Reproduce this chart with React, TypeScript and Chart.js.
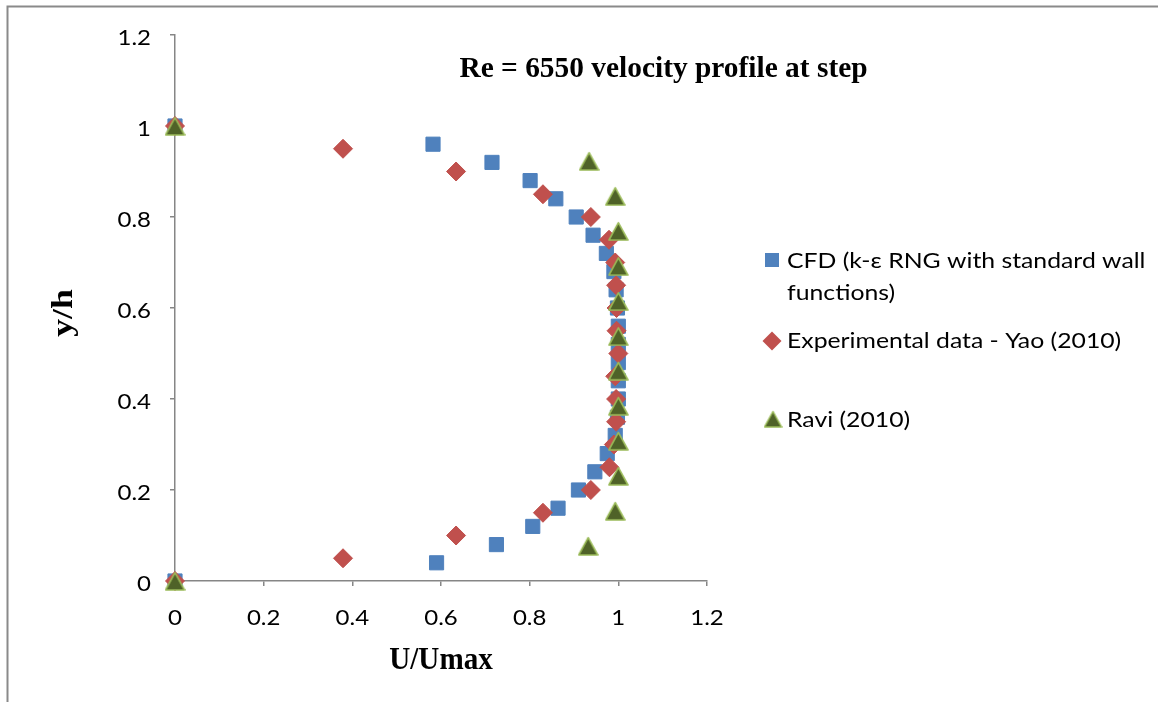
import React, { useEffect, useRef } from 'react';
import { Chart, registerables } from 'chart.js';

Chart.register(...registerables);

// Velocity profile samples: y/h positions and normalised velocity U/Umax
const cfdY = [0, 0.04, 0.08, 0.12, 0.16, 0.2, 0.24, 0.28, 0.32, 0.36, 0.4, 0.44, 0.48, 0.52, 0.56, 0.6, 0.64, 0.68, 0.72, 0.76, 0.8, 0.84, 0.88, 0.92, 0.96, 1];
const cfdU = [0, 0.59, 0.725, 0.807, 0.864, 0.91, 0.947, 0.975, 0.993, 0.998, 1, 1, 1, 1, 1, 0.998, 0.995, 0.99, 0.973, 0.943, 0.905, 0.859, 0.801, 0.715, 0.582, 0];

const expY = [0, 0.05, 0.1, 0.15, 0.2, 0.25, 0.3, 0.35, 0.4, 0.45, 0.5, 0.55, 0.6, 0.65, 0.7, 0.75, 0.8, 0.85, 0.9, 0.95, 1];
const expU = [0, 0.379, 0.634, 0.83, 0.938, 0.98, 0.99, 0.995, 0.995, 0.993, 1, 0.996, 0.996, 0.995, 0.993, 0.979, 0.938, 0.83, 0.634, 0.379, 0];

const raviY = [0, 0.077, 0.154, 0.231, 0.308, 0.385, 0.462, 0.538, 0.615, 0.692, 0.769, 0.846, 0.923, 1];
const raviU = [0, 0.932, 0.993, 1, 1, 1, 1, 1, 1, 1, 1, 0.993, 0.934, 0];

const axisTicks = [0, 0.2, 0.4, 0.6, 0.8, 1, 1.2];

const titleText = 'Re = 6550 velocity profile at step';
const xTitle = 'U/Umax';
const yTitle = 'y/h';
const legendLines = [
  ['CFD (k-ε RNG with standard wall', 'functions)'],
  ['Experimental data - Yao (2010)'],
  ['Ravi (2010)'],
];

const BLUE = '#4F81BD';
const RED = '#C0504D';
const GREEN_FILL = '#4F6228';
const GREEN_EDGE = '#9BBB59';
const AXIS = '#868686';
const SANS = 'Lato, "Open Sans", sans-serif';
const SERIF = '"Liberation Serif", "Times New Roman", serif';

function makeTriangle(w: number, h: number, lw: number): HTMLCanvasElement {
  const c = document.createElement('canvas');
  c.width = w;
  c.height = h;
  const g = c.getContext('2d')!;
  g.beginPath();
  g.moveTo(w / 2, lw);
  g.lineTo(w - lw / 2 - 0.2, h - lw / 2 - 0.2);
  g.lineTo(lw / 2 + 0.2, h - lw / 2 - 0.2);
  g.closePath();
  g.fillStyle = GREEN_FILL;
  g.fill();
  g.lineJoin = 'round';
  g.lineWidth = lw;
  g.strokeStyle = GREEN_EDGE;
  g.stroke();
  return c;
}

function inkWidth(ctx: CanvasRenderingContext2D, s: string) {
  const m = ctx.measureText(s);
  return m.actualBoundingBoxLeft + m.actualBoundingBoxRight;
}

function scaledText(
  ctx: CanvasRenderingContext2D,
  text: string,
  x: number,
  y: number,
  align: CanvasTextAlign,
  sx: number,
  rotate = 0
) {
  ctx.save();
  ctx.translate(x, y);
  if (rotate) ctx.rotate(rotate);
  ctx.scale(sx, 1);
  ctx.textAlign = align;
  ctx.textBaseline = 'alphabetic';
  ctx.fillText(text, 0, 0);
  ctx.restore();
}

export default function App() {
  const ref = useRef<HTMLCanvasElement | null>(null);

  useEffect(() => {
    const canvas = ref.current;
    if (!canvas) return;
    const tri = makeTriangle(21, 20, 1.6);
    const triSmall = makeTriangle(19, 18, 1.5);

    const decor = {
      id: 'decor',
      beforeDraw(chart: any) {
        const ctx: CanvasRenderingContext2D = chart.ctx;
        ctx.save();
        ctx.fillStyle = '#ffffff';
        ctx.fillRect(0, 0, chart.width, chart.height);
        ctx.strokeStyle = '#8a8a8a';
        ctx.lineWidth = 2;
        ctx.beginPath();
        ctx.moveTo(6.5, 6.5);
        ctx.lineTo(chart.width, 6.5);
        ctx.moveTo(7.5, 6.5);
        ctx.lineTo(7.5, chart.height);
        ctx.stroke();
        ctx.restore();
      },
      afterDraw(chart: any) {
        const ctx: CanvasRenderingContext2D = chart.ctx;
        const xs = chart.scales.x;
        const ys = chart.scales.y;
        ctx.save();
        ctx.fillStyle = '#000000';

        // tick labels
        ctx.font = `21.5px ${SANS}`;
        const tsx = 33 / inkWidth(ctx, '0.8');
        for (const t of xs.ticks) {
          scaledText(ctx, String(t.value), xs.getPixelForValue(t.value), 625, 'center', tsx);
        }
        for (const t of ys.ticks) {
          scaledText(ctx, String(t.value), 151, ys.getPixelForValue(t.value) + 9.5, 'right', tsx);
        }

        // chart title
        ctx.font = `bold 29px ${SERIF}`;
        scaledText(ctx, titleText, 663.5, 77, 'center', 407 / inkWidth(ctx, titleText));

        // axis titles
        ctx.font = `bold 31px ${SERIF}`;
        scaledText(ctx, xTitle, 441, 669, 'center', 104 / inkWidth(ctx, xTitle));
        ctx.font = `bold 30px ${SERIF}`;
        scaledText(ctx, yTitle, 72, 313, 'center', 48 / inkWidth(ctx, yTitle), -Math.PI / 2);

        // legend
        ctx.font = `22px ${SANS}`;
        const lsx = 331 / inkWidth(ctx, legendLines[1][0]);
        ctx.fillStyle = BLUE;
        ctx.fillRect(765, 253, 14, 14);
        ctx.fillStyle = RED;
        ctx.beginPath();
        ctx.moveTo(772, 331.5);
        ctx.lineTo(781.5, 341);
        ctx.lineTo(772, 350.5);
        ctx.lineTo(762.5, 341);
        ctx.closePath();
        ctx.fill();
        ctx.drawImage(triSmall, 773 - triSmall.width / 2, 419 - triSmall.height / 2);
        ctx.fillStyle = '#000000';
        scaledText(ctx, legendLines[0][0], 787, 268, 'left', lsx);
        scaledText(ctx, legendLines[0][1], 787, 300, 'left', lsx);
        scaledText(ctx, legendLines[1][0], 787, 348, 'left', lsx);
        scaledText(ctx, legendLines[2][0], 787, 427, 'left', lsx);
        ctx.restore();
      },
    };

    const setTicks = (scale: any) => {
      scale.ticks = axisTicks.map((value) => ({ value }));
    };

    const axisOpts = {
      type: 'linear' as const,
      min: 0,
      max: 1.2,
      afterBuildTicks: setTicks,
      ticks: { display: false },
      grid: { drawOnChartArea: false, drawTicks: true, tickLength: 5, color: AXIS, lineWidth: 1.5 },
      border: { display: true, color: AXIS, width: 1.5 },
    };

    const chart = new Chart(canvas, {
      type: 'scatter',
      data: {
        datasets: [
          {
            label: legendLines[0].join(' '),
            data: cfdU.map((u, i) => ({ x: u, y: cfdY[i] })),
            pointStyle: 'rect',
            pointRadius: 10,
            pointBackgroundColor: BLUE,
            pointBorderColor: BLUE,
            pointBorderWidth: 1,
            clip: false,
            order: 3,
          },
          {
            label: legendLines[1][0],
            data: expU.map((u, i) => ({ x: u, y: expY[i] })),
            pointStyle: 'rectRot',
            pointRadius: 9.5,
            pointBackgroundColor: RED,
            pointBorderColor: RED,
            pointBorderWidth: 1,
            clip: false,
            order: 2,
          },
          {
            label: legendLines[2][0],
            data: raviU.map((u, i) => ({ x: u, y: raviY[i] })),
            pointStyle: tri,
            pointRadius: 10,
            clip: false,
            order: 1,
          },
        ],
      },
      options: {
        responsive: false,
        animation: false,
        devicePixelRatio: 1,
        events: [],
        layout: { padding: { left: 170, right: 451, top: 35, bottom: 116 } },
        plugins: {
          legend: { display: false },
          title: { display: false },
          tooltip: { enabled: false },
        },
        scales: { x: axisOpts, y: axisOpts },
      },
      plugins: [decor],
    } as any);

    return () => chart.destroy();
  }, []);

  return (
    <div style={{ position: 'fixed', left: 0, top: 0, width: 1158, height: 702, background: '#fff' }}>
      <canvas ref={ref} width={1158} height={702} style={{ display: 'block' }} />
    </div>
  );
}
